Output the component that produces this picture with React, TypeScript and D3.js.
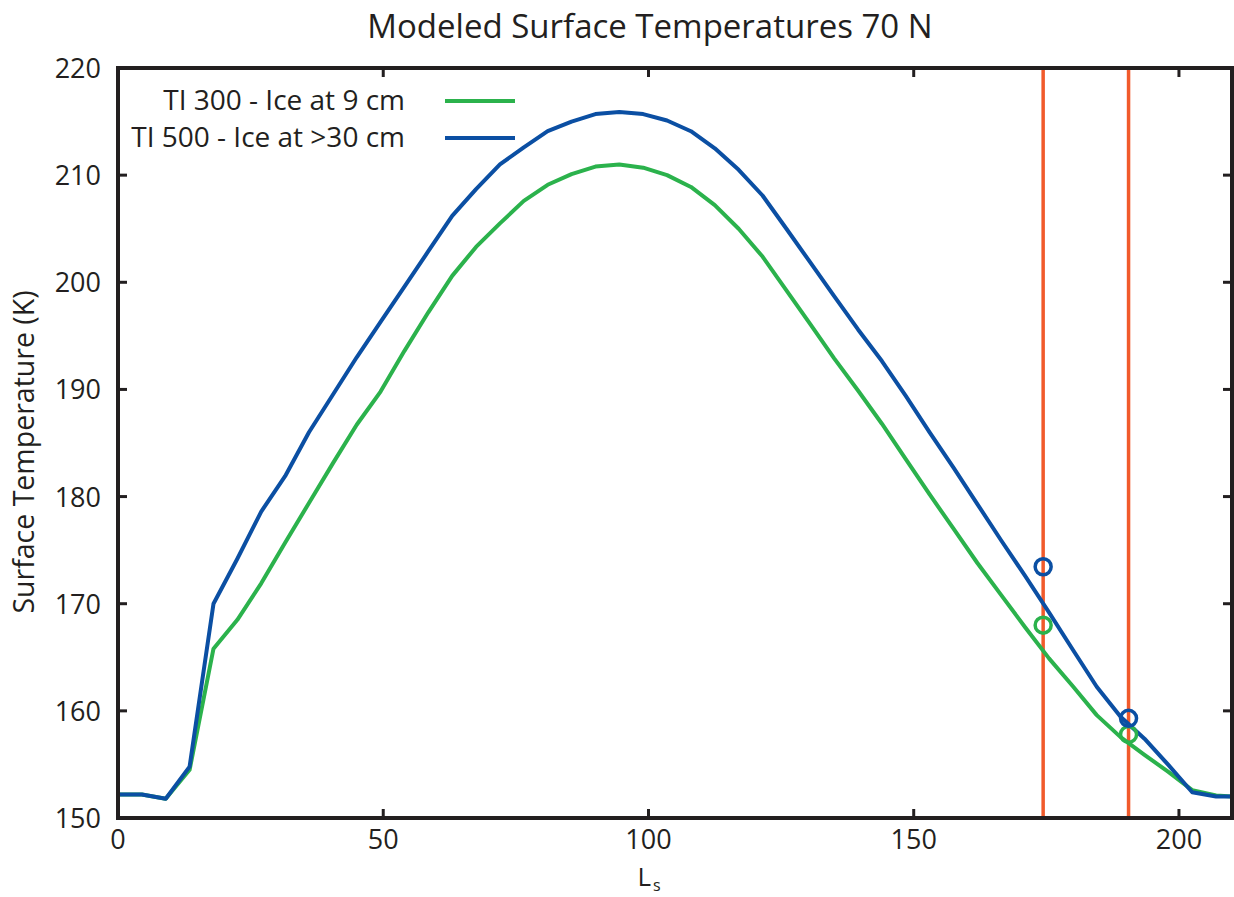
import React from "react";
import * as d3 from "d3";

const lsValues = [0, 4.5, 9, 13.5, 18, 22.5, 27, 31.5, 36, 40.5, 45, 49.5, 54, 58.5, 63, 67.5, 72, 76.5, 81, 85.5, 90, 94.5, 99, 103.5, 108, 112.5, 117, 121.5, 126, 130.5, 135, 139.5, 144, 148.5, 153, 157.5, 162, 166.5, 171, 175.5, 180, 184.5, 189, 193.5, 198, 202.5, 207, 211.5];

const ti300 = [152.2, 152.2, 151.8, 154.5, 165.8, 168.5, 171.9, 175.7, 179.4, 183.1, 186.7, 189.8, 193.6, 197.2, 200.6, 203.3, 205.5, 207.6, 209.1, 210.1, 210.8, 211.0, 210.7, 210.0, 208.9, 207.2, 205.0, 202.4, 199.25, 196.1, 192.9, 189.9, 186.8, 183.5, 180.2, 177.0, 173.8, 170.8, 167.8, 164.9, 162.3, 159.6, 157.55, 155.9, 154.3, 152.6, 152.1, 151.95];

const ti500 = [152.2, 152.2, 151.8, 154.8, 170.0, 174.2, 178.6, 181.9, 186.0, 189.5, 193.0, 196.3, 199.6, 202.9, 206.2, 208.7, 211.0, 212.6, 214.1, 215.0, 215.7, 215.9, 215.7, 215.1, 214.1, 212.5, 210.5, 208.1, 205.0, 201.85, 198.7, 195.6, 192.65, 189.4, 186.0, 182.7, 179.3, 175.9, 172.6, 169.2, 165.7, 162.25, 159.45, 157.4, 154.95, 152.4, 152.0, 152.0];

const markerLs = [174.4, 190.5];
const markerTi300 = [168.0, 157.8];
const markerTi500 = [173.45, 159.3];

const xTicks = [0, 50, 100, 150, 200];
const yTicks = [150, 160, 170, 180, 190, 200, 210, 220];

const legendLabels = ["TI 300 - Ice at 9 cm", "TI 500 - Ice at >30 cm"];

const GREEN = "#2bb24c";
const BLUE = "#0b4fa3";
const RED = "#f15a2b";
const INK = "#231f20";
const FONT = "'Open Sans', 'Noto Sans', sans-serif";

export default function App() {
  const left = 118, right = 1232, top = 68, bottom = 818;
  const x = d3.scaleLinear().domain([0, 210]).range([left, right]);
  const y = d3.scaleLinear().domain([150, 220]).range([bottom, top]);

  const line = d3
    .line<number>()
    .x((_, i) => x(lsValues[i]))
    .y((d) => y(d));

  const tickLen = 9;

  return (
    <svg
      width={1234}
      height={897}
      style={{ position: "absolute", left: 0, top: 0, background: "#fff" }}
      fontFamily={FONT}
    >
      <defs>
        <clipPath id="plotClip">
          <rect x={left} y={top} width={right - left} height={bottom - top} />
        </clipPath>
      </defs>

      <text x={650} y={38} textAnchor="middle" fontSize={33} fill={INK}>
        Modeled Surface Temperatures 70 N
      </text>

      <g clipPath="url(#plotClip)">
        {markerLs.map((m, i) => (
          <line key={"r" + i} x1={x(m)} x2={x(m)} y1={top} y2={bottom} stroke={RED} strokeWidth={3.5} />
        ))}
        <path d={line(ti300) || ""} fill="none" stroke={GREEN} strokeWidth={4} strokeLinejoin="round" />
        <path d={line(ti500) || ""} fill="none" stroke={BLUE} strokeWidth={4} strokeLinejoin="round" />
        {markerLs.map((m, i) => (
          <circle key={"g" + i} cx={x(m)} cy={y(markerTi300[i])} r={8} fill="none" stroke={GREEN} strokeWidth={3.5} />
        ))}
        {markerLs.map((m, i) => (
          <circle key={"b" + i} cx={x(m)} cy={y(markerTi500[i])} r={8} fill="none" stroke={BLUE} strokeWidth={3.5} />
        ))}
      </g>

      {/* frame */}
      <rect x={left} y={top} width={right - left} height={bottom - top} fill="none" stroke={INK} strokeWidth={4} />

      {/* ticks */}
      {xTicks.map((t) => (
        <g key={"xt" + t}>
          <line x1={x(t)} x2={x(t)} y1={bottom} y2={bottom - tickLen} stroke={INK} strokeWidth={3} />
          <line x1={x(t)} x2={x(t)} y1={top} y2={top + tickLen} stroke={INK} strokeWidth={3} />
          <text x={x(t)} y={bottom + 31} textAnchor="middle" fontSize={27} fill={INK}>
            {t}
          </text>
        </g>
      ))}
      {yTicks.map((t) => (
        <g key={"yt" + t}>
          <line x1={left} x2={left + tickLen} y1={y(t)} y2={y(t)} stroke={INK} strokeWidth={3} />
          <line x1={right} x2={right - tickLen} y1={y(t)} y2={y(t)} stroke={INK} strokeWidth={3} />
          <text x={101} y={y(t) + 10} textAnchor="end" fontSize={27} fill={INK}>
            {t}
          </text>
        </g>
      ))}

      {/* axis labels */}
      <text x={651} y={886} textAnchor="end" fontSize={26} fill={INK}>
        L
      </text>
      <text x={653} y={891} textAnchor="start" fontSize={16} fill={INK}>
        s
      </text>
      <text
        transform={`translate(34, 452) rotate(-90)`}
        textAnchor="middle"
        fontSize={28.5}
        fill={INK}
      >
        Surface Temperature (K)
      </text>

      {/* legend */}
      {legendLabels.map((lab, i) => (
        <g key={"lg" + i}>
          <text x={405} y={110 + i * 37} textAnchor="end" fontSize={28} fill={INK}>
            {lab}
          </text>
          <line
            x1={445}
            x2={515}
            y1={101 + i * 37}
            y2={101 + i * 37}
            stroke={i === 0 ? GREEN : BLUE}
            strokeWidth={4}
          />
        </g>
      ))}
    </svg>
  );
}
